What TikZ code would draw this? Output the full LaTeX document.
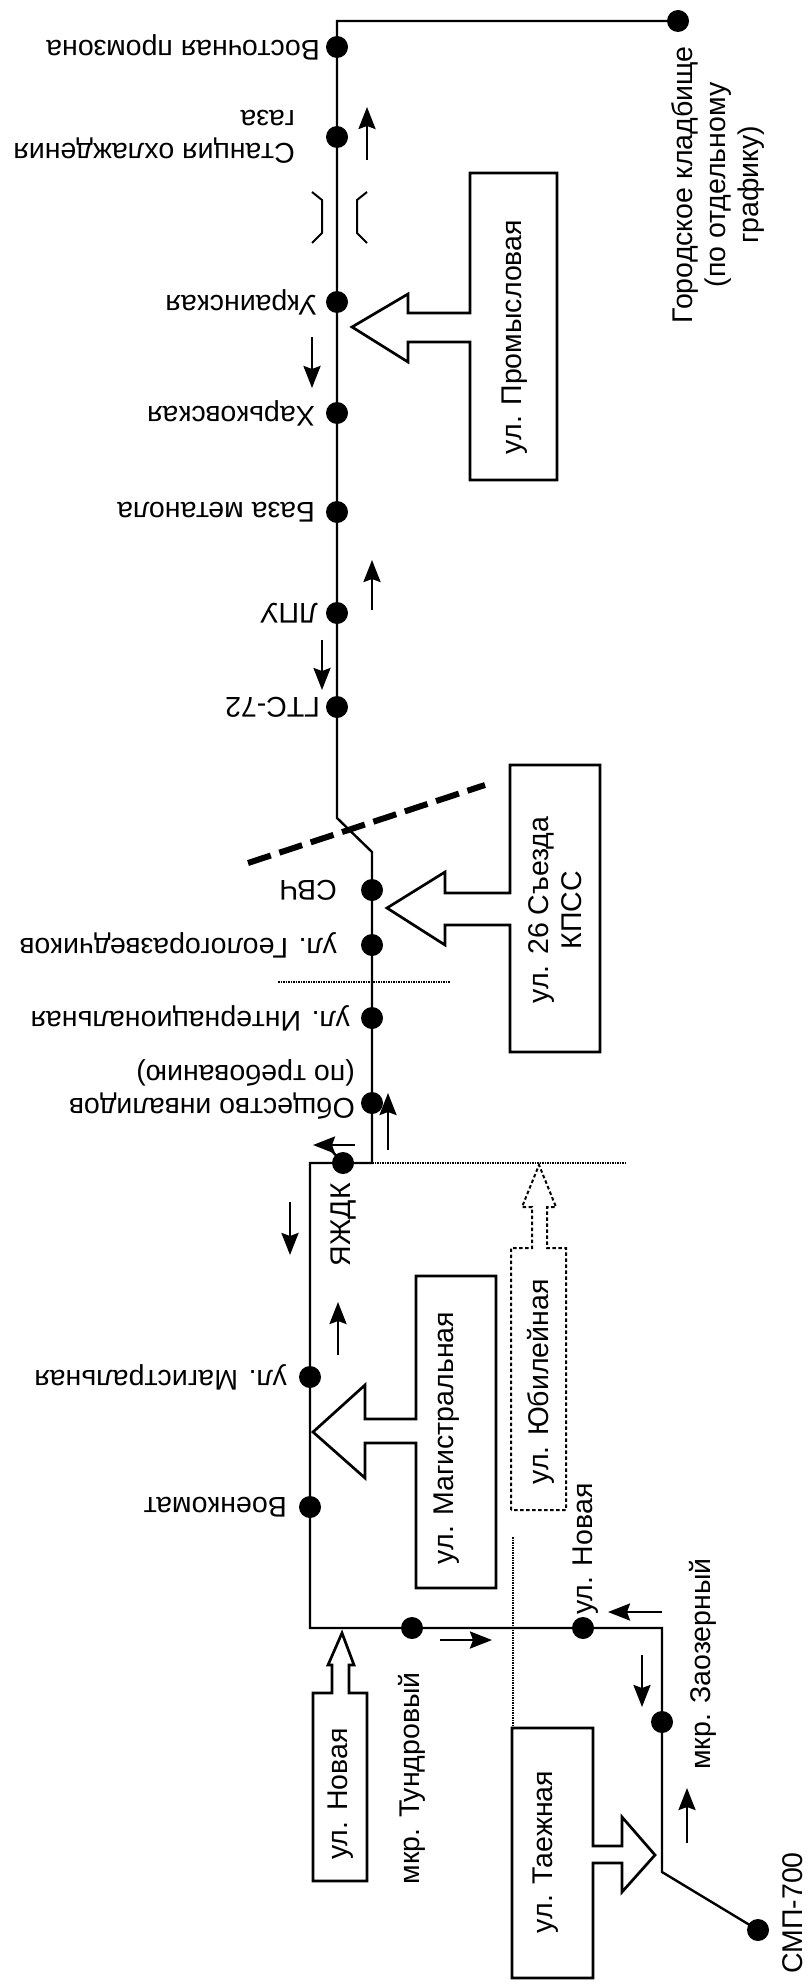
\documentclass[tikz,border=0pt]{standalone}
\usepackage{fontspec}
\setmainfont{Liberation Sans}
\usetikzlibrary{arrows.meta}
\newcommand{\stopfont}{\fontsize{28.5}{33}\selectfont}
\tikzset{
	stop/.style={circle, fill=black, inner sep=0pt, minimum size=22pt},
	route/.style={line width=2.4pt, line join=miter},
	downname/.style={font=\stopfont, rotate=180, anchor=west, inner sep=0pt, align=left},
	upname/.style={font=\stopfont, rotate=90, inner sep=0pt, align=center},
	dirarrow/.style={line width=2.6pt, -{Stealth[length=22pt, width=17pt, inset=3pt]}},
	streetbox/.style={line width=2.7pt, line join=miter},
	dotbox/.style={line width=2pt, dash pattern=on 3.5pt off 2.5pt},
	thindots/.style={line width=1.2pt, dash pattern=on 1.5pt off 1pt},
}

\begin{document}
\begin{tikzpicture}[x=1pt, y=-1pt]
		%%%%% START %%%%%
		\useasboundingbox (0, 0) rectangle (807, 1985);
		
		% stops
		\node[stop] (kladb) at (678, 21) {};
		\node[stop] (vostok) at (337, 47) {};
		\node[stop] (gaz) at (337, 137) {};
		\node[stop] (ukr) at (337, 302) {};
		\node[stop] (khar) at (337, 413) {};
		\node[stop] (baza) at (337, 512) {};
		\node[stop] (lpu) at (337, 613) {};
		\node[stop] (gts) at (337, 707) {};
		\node[stop] (svch) at (372, 890) {};
		\node[stop] (geo) at (372, 945) {};
		\node[stop] (inter) at (372, 1018) {};
		\node[stop] (obsch) at (372, 1103) {};
		\node[stop] (yazhdk) at (343, 1163) {};
		\node[stop] (magistr) at (310, 1377) {};
		\node[stop] (voenk) at (310, 1507) {};
		\node[stop] (tundr) at (412, 1628) {};
		\node[stop] (novaya) at (583, 1628) {};
		\node[stop] (zaoz) at (662, 1722) {};
		\node[stop] (smp) at (758, 1930) {};
		
		% bends of the route
		\coordinate (b1) at (337, 21);
		\coordinate (b2) at (337, 818);
		\coordinate (b3) at (372, 852);
		\coordinate (b4) at (372, 1163);
		\coordinate (b5) at (310, 1163);
		\coordinate (b6) at (310, 1628);
		\coordinate (b7) at (662, 1628);
		\coordinate (b8) at (662, 1872);
		
		\draw[route] (kladb.center) -- (b1) -- (vostok.center) -- (gaz.center) -- (ukr.center)
			-- (khar.center) -- (baza.center) -- (lpu.center) -- (gts.center) -- (b2) -- (b3)
			-- (svch.center) -- (geo.center) -- (inter.center) -- (obsch.center) -- (b4)
			-- (yazhdk.center) -- (b5) -- (magistr.center) -- (voenk.center) -- (b6)
			-- (tundr.center) -- (novaya.center) -- (b7) -- (zaoz.center) -- (b8) -- (smp.center);
		\draw[route] (yazhdk.center) -- (330, 1149);
		
		% stop names
		\node[downname] (vostok-l) at (320, 47) {Восточная промзона};
		\node[downname] (gaz-l) at (295, 137) {Станция охлаждения\\газа};
		\node[downname] (ukr-l) at (317, 302) {Украинская};
		\node[downname] (khar-l) at (315, 413) {Харьковская};
		\node[downname] (baza-l) at (315, 512) {База метанола};
		\node[downname] (lpu-l) at (318, 613) {ЛПУ};
		\node[downname] (gts-l) at (320, 707) {ГТС-72};
		\node[downname] (svch-l) at (337, 890) {СВЧ};
		\node[downname] (geo-l) at (337, 945) {ул. Геологоразведчиков};
		\node[downname] (inter-l) at (350, 1018) {ул. Интернациональная};
		\node[downname] (obsch-l) at (355, 1089) {Общество инвалидов\\(по требованию)};
		\node[downname] (magistr-l) at (287, 1377) {ул. Магистральная};
		\node[downname] (voenk-l) at (287, 1507) {Военкомат};
		
		\node[upname, anchor=base east] (yazhdk-l) at (350, 1183) {ЯЖДК};
		\node[upname, anchor=base east] (tundr-l) at (419, 1672) {мкр. Тундровый};
		\node[upname, anchor=base west] (novaya-l) at (592, 1615) {ул. Новая};
		\node[upname, anchor=base west] (zaoz-l) at (710, 1770) {мкр. Заозерный};
		\node[upname, anchor=base east] (smp-l) at (802, 1852) {СМП-700};
		\node[upname] (kladb-l) at (718, 185) {Городское кладбище\\(по отдельному\\графику)};
		
		% bridge
		\draw[line width=2pt] (312, 192) -- (322, 200) -- (322, 233) -- (312, 243);
		\draw[line width=2pt] (367, 192) -- (357, 200) -- (357, 233) -- (367, 243);
		
		% borders
		\draw[line width=6pt, dash pattern=on 24pt off 9pt] (248, 863) -- (485, 785);
		\draw[thindots] (278, 982) -- (450, 982);
		\draw[thindots] (b4) -- (627, 1163);
		\draw[thindots] (513, 1537) -- (513, 1725);
		
		% streets
		\draw[streetbox] (557, 173) -- (470, 173) -- (470, 313) -- (408, 313) -- (408, 294) -- (352, 327)
			-- (408, 362) -- (408, 342) -- (470, 342) -- (470, 480) -- (557, 480) -- cycle;
		\node[upname] (prom) at (515, 337) {ул. Промысловая};
		
		\draw[streetbox] (600, 765) -- (510, 765) -- (510, 893) -- (445, 893) -- (445, 872) -- (387, 908)
			-- (445, 945) -- (445, 925) -- (510, 925) -- (510, 1052) -- (600, 1052) -- cycle;
		\node[upname] (kpss) at (555, 910) {ул. 26 Съезда\\КПСС};
		
		\draw[streetbox] (496, 1276) -- (416, 1276) -- (416, 1419) -- (365, 1419) -- (365, 1385) -- (313, 1432)
			-- (365, 1478) -- (365, 1443) -- (416, 1443) -- (416, 1588) -- (496, 1588) -- cycle;
		\node[upname] (magistr-s) at (447, 1438) {ул. Магистральная};
		
		\draw[dotbox] (511, 1510) -- (511, 1248) -- (532, 1248) -- (532, 1207) -- (522, 1207) -- (539, 1165)
			-- (556, 1207) -- (547, 1207) -- (547, 1248) -- (566, 1248) -- (566, 1510) -- cycle;
		\node[upname] (yubil) at (541, 1382) {ул. Юбилейная};
		
		\draw[streetbox] (313, 1881) -- (313, 1693) -- (332, 1693) -- (332, 1665) -- (328, 1665) -- (342, 1633)
			-- (354, 1665) -- (349, 1665) -- (349, 1693) -- (367, 1693) -- (367, 1881) -- cycle;
		\node[upname] (novaya-s) at (341, 1794) {ул. Новая};
		
		\draw[streetbox] (593, 1728) -- (512, 1728) -- (512, 1978) -- (593, 1978) -- (593, 1863) -- (622, 1863)
			-- (622, 1892) -- (655, 1855) -- (622, 1817) -- (622, 1846) -- (593, 1846) -- cycle;
		\node[upname] (taezh) at (546, 1852) {ул. Таежная};
		
		% direction of travel
		\draw[dirarrow] (367, 160) -- (367, 107);
		\draw[dirarrow] (312, 337) -- (312, 388);
		\draw[dirarrow] (372, 610) -- (372, 560);
		\draw[dirarrow] (322, 640) -- (322, 690);
		\draw[dirarrow] (388, 1150) -- (388, 1093);
		\draw[dirarrow] (355, 1145) -- (313, 1145);
		\draw[dirarrow] (290, 1202) -- (290, 1255);
		\draw[dirarrow] (338, 1355) -- (338, 1302);
		\draw[dirarrow] (440, 1640) -- (492, 1640);
		\draw[dirarrow] (662, 1612) -- (608, 1612);
		\draw[dirarrow] (642, 1655) -- (642, 1707);
		\draw[dirarrow] (687, 1843) -- (687, 1788);
		
		%%%%% END %%%%%
	\end{tikzpicture}
\end{document}
